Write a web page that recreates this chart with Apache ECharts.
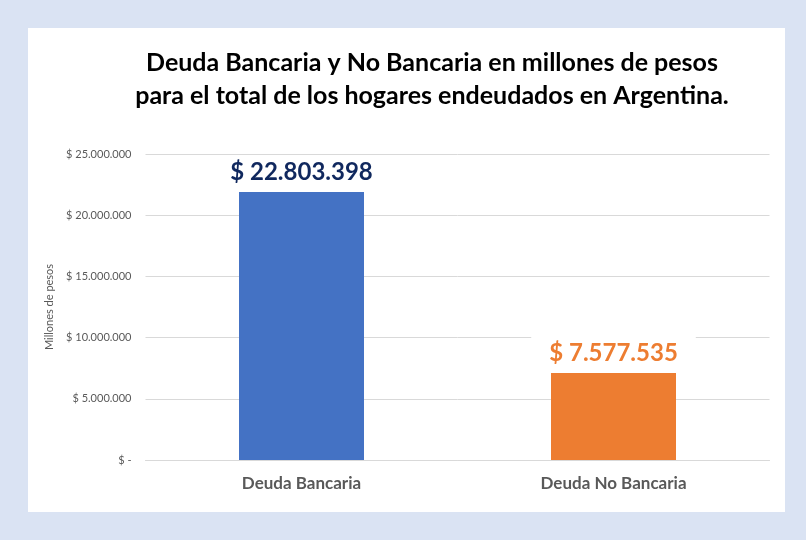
<!DOCTYPE html>
<html>
<head>
<meta charset="utf-8">
<script src="https://cdn.jsdelivr.net/npm/echarts@6/dist/echarts.min.js"></script>
<style>
  html, body { margin: 0; padding: 0; background: #dae3f3; }
  #main { width: 806px; height: 540px; }
</style>
</head>
<body>
<div id="main"></div>
<script>
// datos del gráfico
var categorias = ['Deuda Bancaria', 'Deuda No Bancaria'];
var valores = [21900000, 7100000];           // altura de las barras
var etiquetas = ['$ 22.803.398', '$ 7.577.535']; // etiquetas de datos
var colores = ['#4472c4', '#ed7d31'];
var coloresEtiqueta = ['#10285e', '#ed7d31'];

function formatoPesos(v) {
    if (v === 0) return '$ -';
    return '$ ' + String(v).replace(/\B(?=(\d{3})+(?!\d))/g, '.');
}

var myChart = echarts.init(document.getElementById('main'));

var datos = [];
for (var i = 0; i < valores.length; i++) {
    datos.push({
        value: valores[i],
        itemStyle: { color: colores[i] },
        label: {
            formatter: etiquetas[i],
            color: coloresEtiqueta[i]
        }
    });
}

var option = {
    backgroundColor: '#dae3f3',
    textStyle: { fontFamily: 'Lato' },
    graphic: [{
        type: 'rect',
        z: -10,
        shape: { x: 28, y: 28, width: 757, height: 484 },
        style: { fill: '#ffffff' }
    }],
    title: {
        text: 'Deuda Bancaria y No Bancaria en millones de pesos\npara el total de los hogares endeudados en Argentina.',
        left: 427,
        top: 41,
        textAlign: 'center',
        textStyle: {
            fontFamily: 'Lato',
            fontWeight: 'bold',
            fontSize: 25,
            lineHeight: 33,
            color: '#000000'
        }
    },
    grid: {
        left: 145.5,
        right: 36.5,
        top: 154,
        bottom: 80
    },
    xAxis: {
        type: 'category',
        data: categorias,
        axisLine: { lineStyle: { color: '#d9d9d9' } },
        axisTick: { show: false },
        axisLabel: {
            color: '#595959',
            fontSize: 17,
            fontWeight: 'bold',
            margin: 15
        }
    },
    yAxis: {
        type: 'value',
        min: 0,
        max: 25000000,
        interval: 5000000,
        name: 'Millones de pesos',
        nameLocation: 'middle',
        nameGap: 71,
        nameTextStyle: { color: '#595959', fontSize: 11 },
        axisLine: { show: false },
        axisTick: { show: false },
        splitLine: { lineStyle: { color: '#d9d9d9' } },
        axisLabel: {
            color: '#595959',
            fontSize: 11,
            margin: 14,
            formatter: formatoPesos
        }
    },
    series: [{
        type: 'bar',
        barWidth: 125,
        data: datos,
        label: {
            show: true,
            position: 'top',
            distance: 4,
            fontSize: 24,
            fontWeight: 'bold',
            backgroundColor: '#ffffff',
            padding: [4, 18]
        }
    }]
};

myChart.setOption(option);
</script>
</body>
</html>
